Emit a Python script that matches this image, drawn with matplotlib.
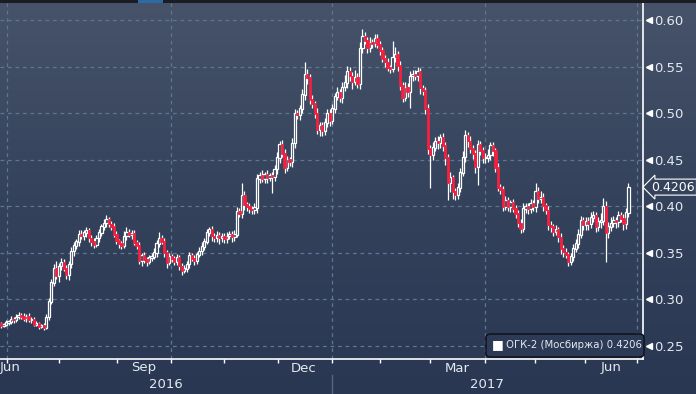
import numpy as np
import matplotlib
matplotlib.use("Agg")
from matplotlib import pyplot as plt
from matplotlib.colors import LinearSegmentedColormap
from matplotlib.patches import Rectangle, FancyBboxPatch
import matplotlib.transforms as mtransforms

# daily closes, late Jun 2016 .. Jun 2017 (trading days)
closes = [
    0.272, 0.273, 0.275, 0.276, 0.279, 0.278, 0.281, 0.283, 0.282, 0.279,
    0.282, 0.278, 0.279, 0.273, 0.274, 0.271, 0.272, 0.270, 0.281, 0.298,
    0.318, 0.333, 0.325, 0.336, 0.340, 0.333, 0.327, 0.338, 0.352, 0.358,
    0.362, 0.370, 0.368, 0.372, 0.374, 0.366, 0.362, 0.359, 0.366, 0.372,
    0.378, 0.382, 0.386, 0.381, 0.378, 0.370, 0.363, 0.360, 0.358, 0.368,
    0.372, 0.370, 0.371, 0.361, 0.358, 0.342, 0.347, 0.343, 0.341, 0.345,
    0.346, 0.350, 0.360, 0.366, 0.362, 0.350, 0.340, 0.346, 0.344, 0.341,
    0.345, 0.336, 0.331, 0.333, 0.338, 0.347, 0.344, 0.342, 0.348, 0.352,
    0.357, 0.362, 0.372, 0.375, 0.368, 0.366, 0.369, 0.366, 0.368, 0.365,
    0.368, 0.370, 0.367, 0.370, 0.394, 0.392, 0.412, 0.402, 0.400, 0.397,
    0.396, 0.399, 0.430, 0.433, 0.430, 0.434, 0.431, 0.433, 0.432, 0.440,
    0.452, 0.466, 0.457, 0.442, 0.450, 0.448, 0.468, 0.500, 0.498, 0.505,
    0.520, 0.542, 0.538, 0.515, 0.510, 0.500, 0.482, 0.487, 0.481, 0.490,
    0.500, 0.492, 0.505, 0.518, 0.522, 0.517, 0.528, 0.533, 0.545, 0.540,
    0.534, 0.538, 0.532, 0.570, 0.582, 0.578, 0.570, 0.576, 0.575, 0.580,
    0.574, 0.567, 0.559, 0.555, 0.549, 0.548, 0.560, 0.563, 0.551, 0.530,
    0.517, 0.528, 0.523, 0.540, 0.542, 0.540, 0.545, 0.527, 0.524, 0.505,
    0.462, 0.455, 0.463, 0.470, 0.468, 0.474, 0.465, 0.452, 0.425, 0.431,
    0.416, 0.413, 0.420, 0.436, 0.453, 0.476, 0.470, 0.462, 0.457, 0.443,
    0.466, 0.460, 0.452, 0.452, 0.455, 0.465, 0.460, 0.442, 0.420, 0.418,
    0.400, 0.406, 0.400, 0.404, 0.398, 0.392, 0.382, 0.376, 0.398, 0.400,
    0.397, 0.403, 0.400, 0.416, 0.408, 0.410, 0.401, 0.396, 0.380, 0.378,
    0.373, 0.375, 0.367, 0.355, 0.351, 0.348, 0.341, 0.346, 0.355, 0.360,
    0.370, 0.385, 0.380, 0.384, 0.381, 0.388, 0.390, 0.378, 0.384, 0.385,
    0.400, 0.372, 0.378, 0.382, 0.385, 0.383, 0.390, 0.387, 0.381, 0.393,
    0.4206,
]
first_open = 0.274

# wick lengths above / below the body, in thousandths
wick_up = [
    2, 2, 3, 2, 3, 2, 3, 4, 2, 3,   2, 3, 2, 2, 3, 2, 2, 3, 3, 4,
    4, 5, 8, 3, 4, 3, 4, 3, 4, 4,   3, 4, 5, 3, 4, 3, 3, 4, 3, 4,
    3, 4, 5, 3, 3, 4, 3, 2, 3, 5,   6, 4, 3, 4, 3, 4, 3, 4, 3, 3,
    4, 5, 4, 6, 3, 4, 3, 4, 3, 3,   4, 3, 3, 4, 3, 4, 3, 4, 3, 4,
    5, 4, 4, 3, 4, 3, 4, 3, 3, 3,   4, 3, 3, 4, 5, 4, 13, 4, 3, 3,
    3, 4, 5, 4, 6, 3, 5, 3, 4, 4,   6, 4, 5, 4, 4, 3, 5, 4, 3, 4,
    6, 13, 5, 4, 5, 3, 6, 4, 3, 5,  4, 4, 5, 4, 6, 4, 5, 8, 6, 5,
    4, 8, 5, 6, 8, 5, 4, 6, 4, 5,   5, 4, 4, 3, 4, 3, 18, 8, 4, 5,
    4, 5, 4, 5, 4, 4, 5, 4, 3, 4,   5, 4, 6, 4, 5, 4, 5, 4, 4, 6,
    3, 4, 5, 5, 6, 6, 4, 5, 4, 3,   5, 4, 4, 5, 6, 4, 4, 3, 4, 4,
    4, 5, 4, 3, 4, 3, 4, 4, 5, 4,   4, 5, 4, 9, 5, 6, 4, 3, 4, 4,
    3, 5, 3, 4, 3, 4, 3, 4, 4, 5,   6, 5, 4, 5, 4, 6, 5, 4, 5, 8,
    9, 6, 5, 6, 5, 4, 5, 4, 5, 5, 4,
]
wick_dn = [
    3, 2, 2, 3, 2, 3, 2, 2, 3, 2,   3, 2, 3, 2, 2, 3, 2, 3, 2, 3,
    3, 4, 3, 6, 4, 3, 5, 6, 4, 5,   4, 5, 3, 4, 5, 4, 5, 4, 3, 4,
    4, 3, 4, 3, 4, 3, 4, 5, 4, 3,   4, 3, 5, 3, 4, 4, 6, 4, 5, 3,
    4, 3, 4, 4, 3, 4, 6, 3, 4, 4,   4, 4, 5, 3, 4, 4, 3, 5, 4, 3,
    4, 4, 3, 4, 5, 4, 4, 6, 4, 4,   4, 3, 5, 4, 3, 4, 5, 6, 5, 4,
    4, 4, 6, 5, 4, 5, 6, 4, 18, 5,  5, 6, 4, 6, 4, 5, 6, 5, 4, 5,
    5, 6, 7, 5, 4, 5, 4, 6, 5, 4,   5, 6, 4, 5, 4, 5, 6, 4, 6, 5,
    8, 4, 5, 6, 5, 4, 5, 4, 5, 4,   4, 5, 4, 5, 4, 5, 4, 5, 6, 5,
    5, 4, 6, 17, 5, 4, 5, 6, 5, 6,  6, 35, 5, 4, 6, 5, 6, 8, 18, 10,
    8, 6, 5, 5, 4, 5, 6, 5, 6, 7,   20, 5, 6, 5, 4, 5, 6, 5, 4, 5,
    5, 4, 5, 6, 4, 5, 4, 5, 4, 5,   5, 4, 5, 6, 4, 5, 6, 4, 5, 6,
    5, 4, 5, 6, 5, 4, 5, 4, 5, 4,   5, 4, 6, 5, 6, 4, 5, 6, 5, 7,
    5, 32, 6, 5, 4, 6, 5, 4, 6, 5, 5,
]

yticks = [0.25, 0.30, 0.35, 0.40, 0.45, 0.50, 0.55, 0.60]
month_names = ["Jun", "Sep", "Dec", "Mar", "Jun"]
year_names = ["2016", "2017"]
last_price = 0.4206
legend_name = "ОГК-2 (Мосбиржа)"

# layout (trading-day index units)
month_pos = [-0.4, 57.0, 120.7, 181.7, 243.0]
year_pos = [65.5, 193.6]
month_ticks = [2.4, 23.1, 46.2, 67.7, 88.9, 110.4, 131.9, 151.0, 171.0, 192.8, 212.7, 232.7, 253.4]
grid_x = [2.4, 67.7, 131.9, 192.8, 253.4]
year_sep = 131.9

red = "#f5203f"
txt = "#e4e9f1"
gridc = "#5d7792"

c = np.array(closes)
o = np.r_[first_open, c[:-1]]
top = np.maximum(o, c)
bot = np.minimum(o, c)
hi = top + np.array(wick_up) / 1000
lo = bot - np.array(wick_dn) / 1000
x = np.arange(len(c))
up = c >= o

fig = plt.figure(figsize=(6.96, 3.94), dpi=100)

# background gradient over the whole figure
bg = fig.add_axes([0, 0, 1, 1], zorder=-1)
cmap = LinearSegmentedColormap.from_list("bg", ["#2a3752", "#34425c", "#465369"])
bg.imshow(np.linspace(0, 1, 256).reshape(-1, 1), aspect="auto", cmap=cmap,
          origin="lower", extent=[0, 1, 0, 1])
bg.set_axis_off()

# top strip
fig.patches.append(Rectangle((0, 1 - 3 / 394), 1, 3 / 394, transform=fig.transFigure,
                             facecolor="#1b1d22", edgecolor="none"))
fig.patches.append(Rectangle((138 / 696, 1 - 3 / 394), 25 / 696, 3 / 394, transform=fig.transFigure,
                             facecolor="#2d6aa3", edgecolor="none"))

ax = fig.add_axes([0, 35 / 394, 643 / 696, 356 / 394])
ax.set_facecolor("none")
ax.set_xlim(-0.4, 255.8)
ax.set_ylim(0.2360, 0.6183)

for g in grid_x:
    ax.axvline(g, color=gridc, lw=0.9, ls=(0, (3, 3)), zorder=1)
for t in yticks:
    ax.axhline(t, color=gridc, lw=0.9, ls=(0, (3, 3)), zorder=1)

# wicks
ax.vlines(x, top, hi, color="white", lw=0.9, zorder=3)
ax.vlines(x, lo, bot, color="white", lw=0.9, zorder=3)
# bodies
w = 0.9
ax.bar(x[up], (top - bot)[up] + 0.0008, w, bot[up] - 0.0004, facecolor="#2f3d58",
       edgecolor="white", linewidth=0.9, zorder=4)
ax.bar(x[~up], (top - bot)[~up] + 0.0008, w, bot[~up] - 0.0004, facecolor=red,
       edgecolor=red, linewidth=0.6, zorder=5)

for s in ["left", "top"]:
    ax.spines[s].set_visible(False)
ax.spines["right"].set_color("white")
ax.spines["bottom"].set_color("white")
ax.spines["right"].set_linewidth(1.2)
ax.spines["bottom"].set_linewidth(1.2)

ax.yaxis.tick_right()
ax.set_yticks(yticks)
ax.set_yticklabels(["%.2f" % t for t in yticks], color=txt, fontsize=9.5)
ax.tick_params(axis="y", length=0, pad=8)
trans_y = mtransforms.blended_transform_factory(ax.transAxes, ax.transData)
ax.plot([1.0 + 6 / 643] * len(yticks), yticks, marker="<", ls="none", ms=4,
        color="white", transform=trans_y, clip_on=False)

ax.set_xticks(month_ticks)
ax.set_xticklabels([])
ax.tick_params(axis="x", length=3, color="white", width=1)

trans_x = mtransforms.blended_transform_factory(ax.transData, ax.transAxes)
for p, m in zip(month_pos, month_names):
    ha = "left" if p < 0 else "center"
    ax.text(p, -9 / 356, m, color=txt, fontsize=9.5, ha=ha, va="center",
            transform=trans_x, clip_on=False)
for p, yname in zip(year_pos, year_names):
    ax.text(p, -26 / 356, yname, color=txt, fontsize=9.5, ha="center", va="center",
            transform=trans_x, clip_on=False)
ax.plot([year_sep, year_sep], [-16 / 356, -36 / 356], color="#56657c", lw=1,
        transform=trans_x, clip_on=False)

# last price flag
ax.annotate("%.4f" % last_price, xy=(1.0, last_price), xycoords=trans_y,
            xytext=(6, 0), textcoords="offset points", color="white", fontsize=9,
            va="center", ha="left",
            bbox=dict(boxstyle="larrow,pad=0.12", facecolor="#34425c", edgecolor="white", lw=0.8))

# legend box
fig.patches.append(FancyBboxPatch((486 / 696, 1 - 357 / 394), 158 / 696, 23 / 394,
                                  boxstyle="round,pad=0,rounding_size=0.008",
                                  transform=fig.transFigure, facecolor="#2c3a55",
                                  edgecolor="#0c0f14", lw=1.0))
fig.text(492 / 696, 1 - 345 / 394, "\u25A0", color="white", fontsize=9, va="center")
fig.text(506 / 696, 1 - 345 / 394, legend_name + " %.4f" % last_price, color=txt,
         fontsize=7.3, va="center")

fig.savefig("out.png", dpi=100)
